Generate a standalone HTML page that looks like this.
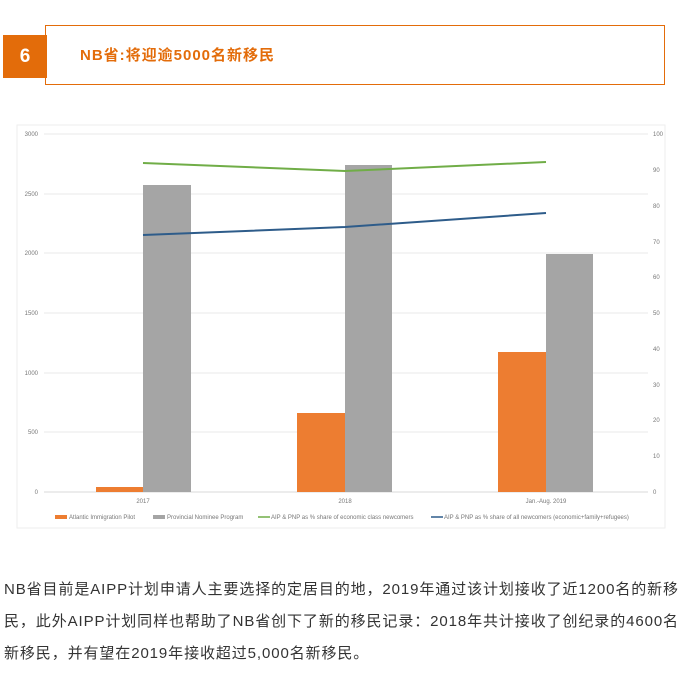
<!DOCTYPE html>
<html><head><meta charset="utf-8"><style>
body{margin:0;width:685px;height:678px;background:#fff;position:relative;overflow:hidden;font-family:"Liberation Sans","Noto Sans CJK SC",sans-serif}
.box{position:absolute;left:45px;top:25px;width:618px;height:58px;border:1px solid #e36c0a}
.sq{position:absolute;left:3px;top:35px;width:44px;height:43px;background:#e36c0a;color:#fff;font-weight:bold;font-size:19px;text-align:center;line-height:43px}
.t{position:absolute;left:80px;top:44px;color:#e36c0a;font-weight:bold;font-size:15px;letter-spacing:1px}
p{position:absolute;left:4px;top:574px;width:680px;margin:0;font-size:15px;line-height:32px;color:#333;letter-spacing:0.9px}
</style></head><body>
<div class="box"></div><div class="sq">6</div>
<div class="t">NB省:将迎逾5000名新移民</div>
<svg style="position:absolute;left:0;top:0" width="685" height="560" font-family="Liberation Sans" font-size="6" fill="#777">
<rect x="17" y="125" width="648" height="403" fill="#fff" stroke="#eee"/>
<g stroke="#e8e8e8" stroke-width="1">
<line x1="44" y1="134" x2="648" y2="134"/><line x1="44" y1="194" x2="648" y2="194"/><line x1="44" y1="253" x2="648" y2="253"/><line x1="44" y1="313" x2="648" y2="313"/><line x1="44" y1="373" x2="648" y2="373"/><line x1="44" y1="432" x2="648" y2="432"/><line x1="44" y1="492" x2="648" y2="492" stroke="#d8d8d8"/>
</g>
<g text-anchor="end"><text x="38" y="136">3000</text><text x="38" y="196">2500</text><text x="38" y="255">2000</text><text x="38" y="315">1500</text><text x="38" y="375">1000</text><text x="38" y="434">500</text><text x="38" y="494">0</text></g>
<g><text x="653" y="136">100</text><text x="653" y="172">90</text><text x="653" y="208">80</text><text x="653" y="244">70</text><text x="653" y="279">60</text><text x="653" y="315">50</text><text x="653" y="351">40</text><text x="653" y="387">30</text><text x="653" y="422">20</text><text x="653" y="458">10</text><text x="653" y="494">0</text></g>
<rect x="96" y="487" width="47" height="5" fill="#ed7d31"/><rect x="143" y="185" width="48" height="307" fill="#a5a5a5"/>
<rect x="297" y="413" width="48" height="79" fill="#ed7d31"/><rect x="345" y="165" width="47" height="327" fill="#a5a5a5"/>
<rect x="498" y="352" width="48" height="140" fill="#ed7d31"/><rect x="546" y="254" width="47" height="238" fill="#a5a5a5"/>
<polyline points="143,163 345,171 546,162" fill="none" stroke="#70ad47" stroke-width="2"/>
<polyline points="143,235 345,227 546,213" fill="none" stroke="#2e5c8a" stroke-width="2"/>
<g text-anchor="middle"><text x="143" y="503">2017</text><text x="345" y="503">2018</text><text x="546" y="503">Jan.-Aug. 2019</text></g>
<rect x="55" y="515" width="12" height="4" fill="#ed7d31"/><text x="69" y="519">Atlantic Immigration Pilot</text>
<rect x="153" y="515" width="12" height="4" fill="#a5a5a5"/><text x="167" y="519">Provincial Nominee Program</text>
<line x1="258" y1="517" x2="270" y2="517" stroke="#70ad47" stroke-width="1.5"/><text x="271" y="519">AIP &amp; PNP as % share of economic class newcomers</text>
<line x1="431" y1="517" x2="443" y2="517" stroke="#2e5c8a" stroke-width="1.5"/><text x="444" y="519">AIP &amp; PNP as % share of all newcomers (economic+family+refugees)</text>
</svg>
<p>NB省目前是AIPP计划申请人主要选择的定居目的地，2019年通过该计划接收了近1200名的新移民，此外AIPP计划同样也帮助了NB省创下了新的移民记录：2018年共计接收了创纪录的4600名新移民，并有望在2019年接收超过5,000名新移民。</p>
</body></html>
